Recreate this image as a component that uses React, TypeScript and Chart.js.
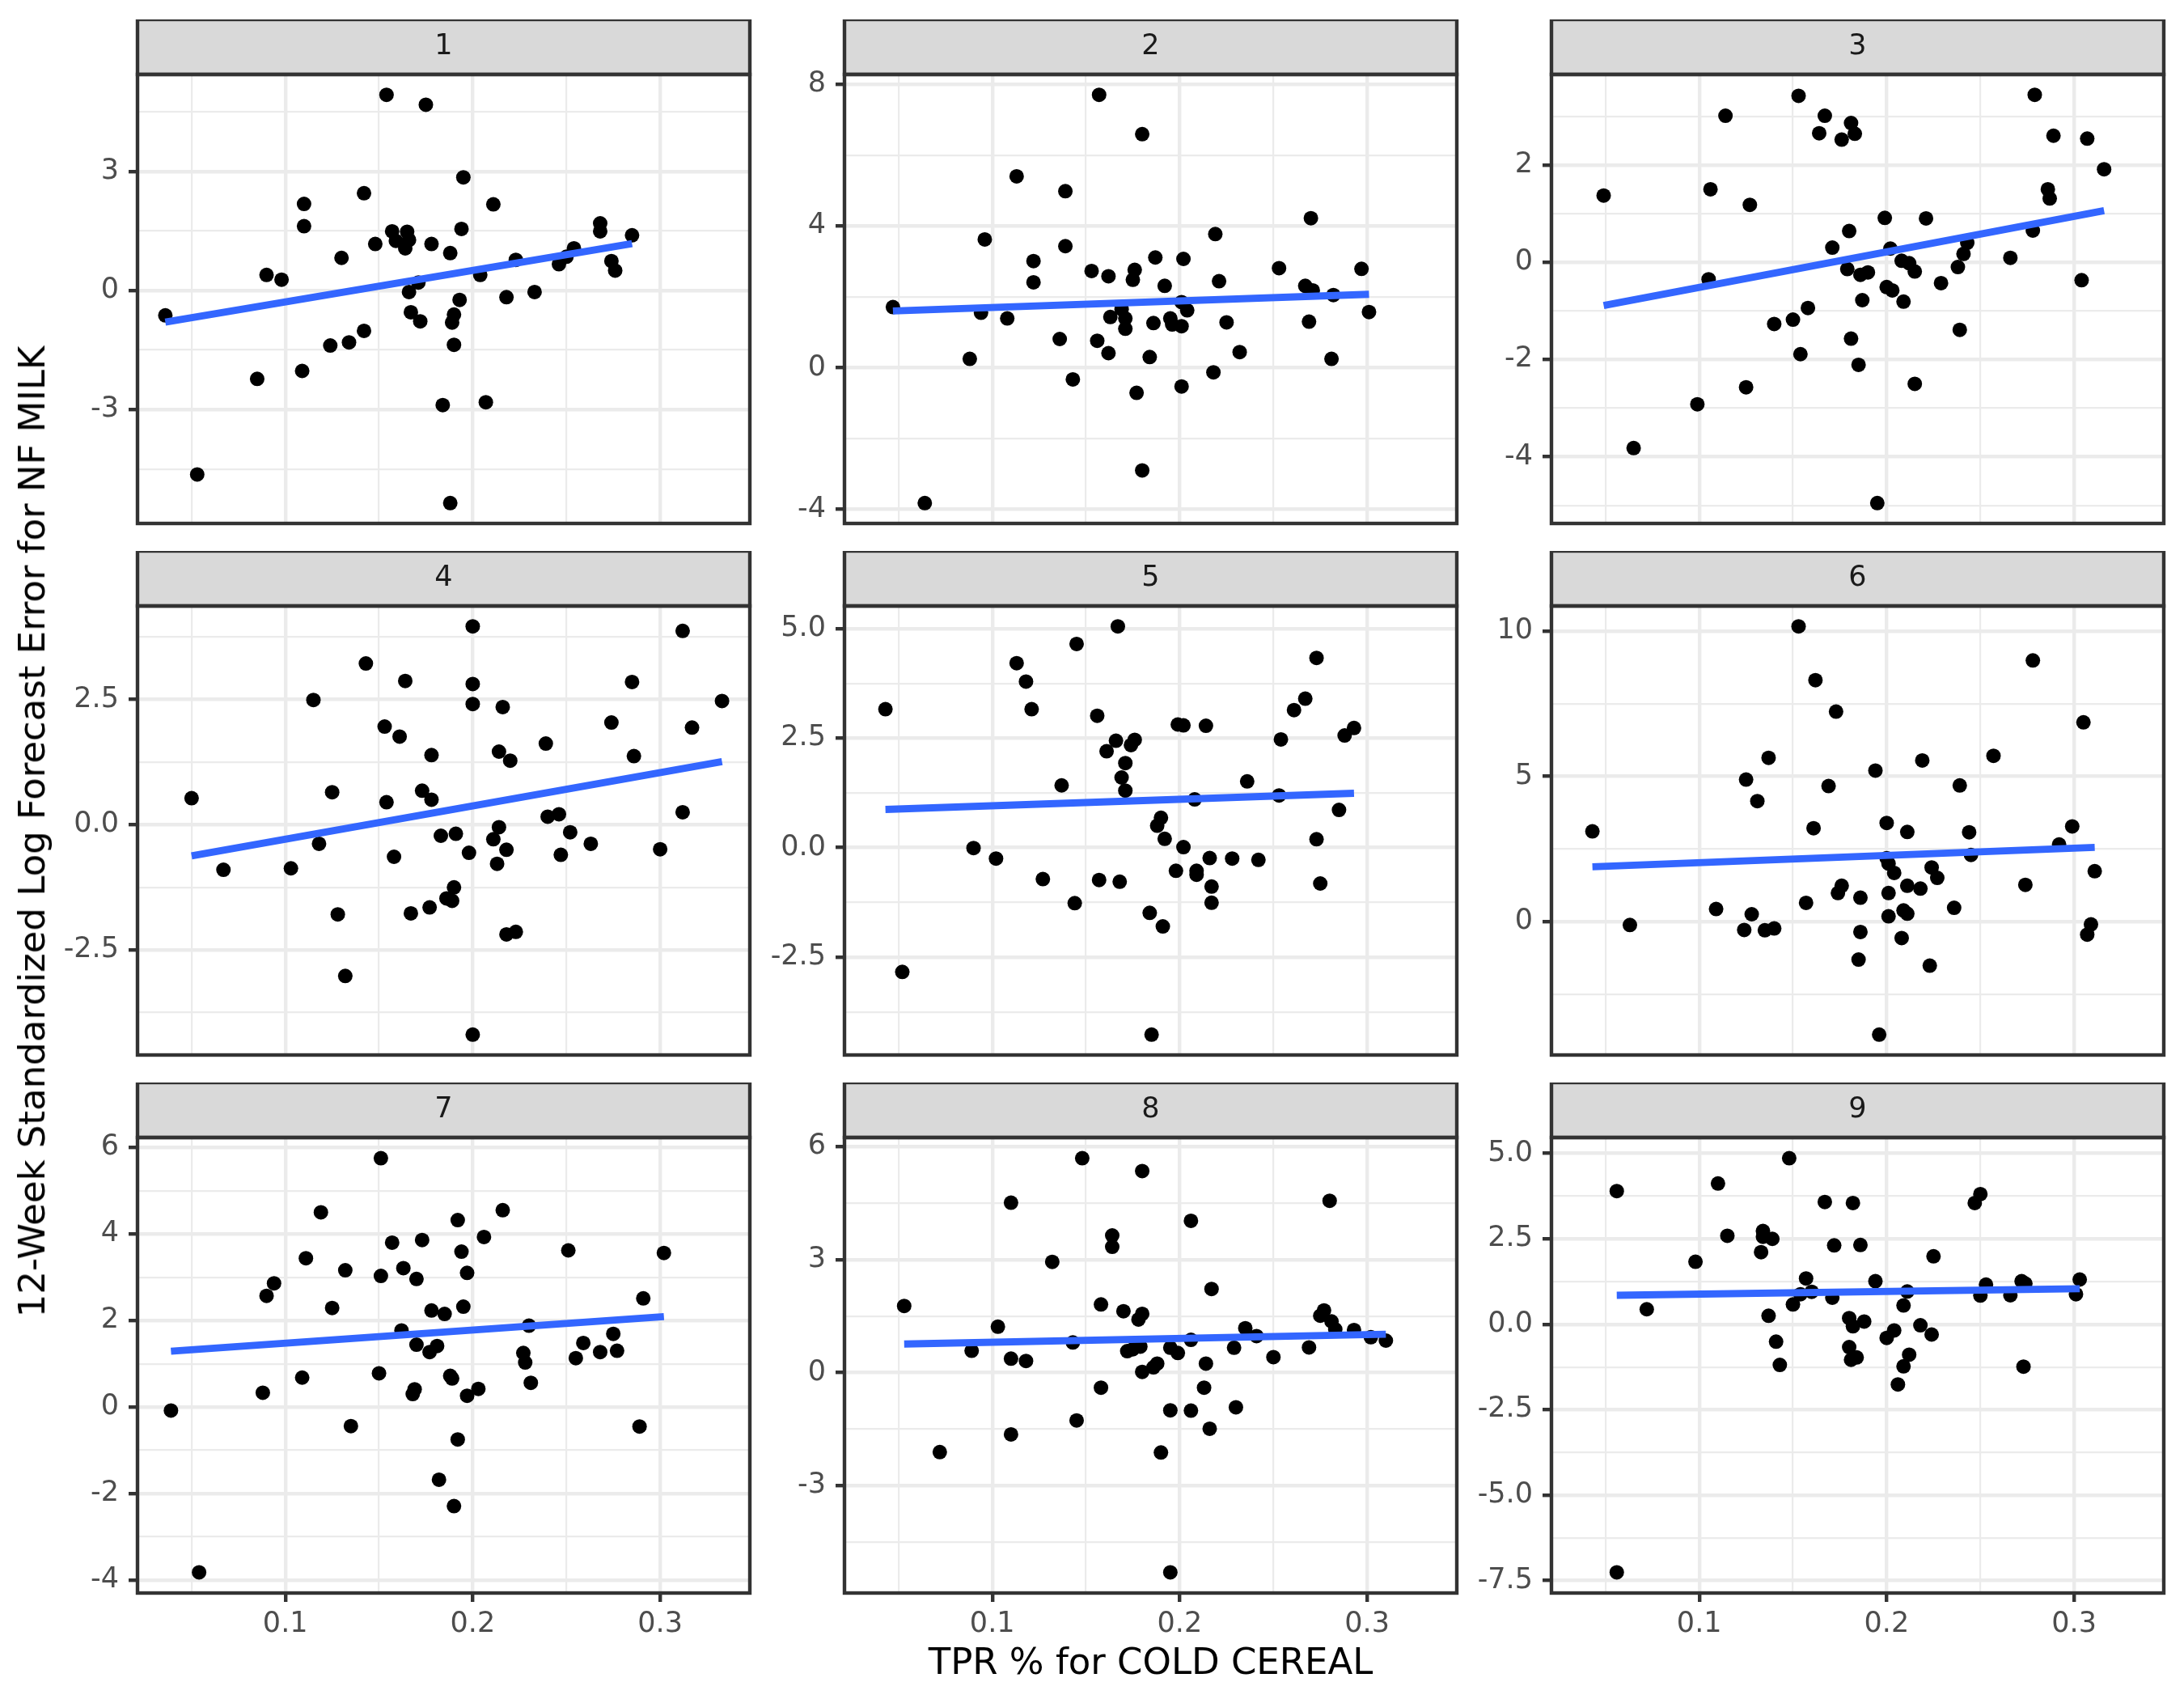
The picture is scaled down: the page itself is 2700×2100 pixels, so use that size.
import { useEffect, useRef } from "react"
import { Chart, registerables } from "chart.js"

Chart.register(...registerables)

// Panel 1
const P1_X = [0.036, 0.053, 0.085, 0.09, 0.098, 0.109, 0.11, 0.11, 0.124, 0.13, 0.134, 0.142, 0.142, 0.148, 0.154, 0.157, 0.159, 0.164, 0.165, 0.166, 0.166, 0.167, 0.171, 0.172, 0.175, 0.178, 0.184, 0.188, 0.188, 0.189, 0.19, 0.19, 0.193, 0.194, 0.195, 0.204, 0.207, 0.211, 0.218, 0.223, 0.233, 0.246, 0.25, 0.254, 0.268, 0.268, 0.274, 0.276, 0.285]
const P1_Y = [-0.63, -4.64, -2.23, 0.39, 0.27, -2.03, 2.18, 1.62, -1.39, 0.82, -1.31, -1.02, 2.45, 1.17, 4.93, 1.49, 1.25, 1.06, 1.48, 1.27, -0.04, -0.55, 0.2, -0.78, 4.68, 1.17, -2.89, 0.94, -5.36, -0.81, -0.61, -1.37, -0.24, 1.55, 2.85, 0.39, -2.82, 2.17, -0.17, 0.77, -0.04, 0.66, 0.85, 1.06, 1.69, 1.49, 0.74, 0.5, 1.39]

// Panel 2
const P2_X = [0.047, 0.064, 0.088, 0.094, 0.096, 0.108, 0.113, 0.122, 0.122, 0.136, 0.139, 0.139, 0.143, 0.153, 0.156, 0.157, 0.162, 0.162, 0.163, 0.169, 0.171, 0.171, 0.175, 0.176, 0.177, 0.18, 0.18, 0.184, 0.186, 0.187, 0.192, 0.195, 0.196, 0.201, 0.201, 0.201, 0.202, 0.204, 0.218, 0.219, 0.221, 0.225, 0.232, 0.253, 0.267, 0.269, 0.27, 0.271, 0.281, 0.282, 0.297, 0.301]
const P2_Y = [1.71, -3.82, 0.25, 1.55, 3.62, 1.39, 5.4, 3.01, 2.41, 0.81, 4.98, 3.43, -0.33, 2.73, 0.76, 7.7, 2.58, 0.41, 1.43, 1.65, 1.39, 1.1, 2.48, 2.76, -0.71, 6.59, -2.9, 0.3, 1.26, 3.11, 2.31, 1.39, 1.22, 1.85, 1.17, -0.53, 3.07, 1.62, -0.13, 3.77, 2.44, 1.28, 0.44, 2.81, 2.31, 1.3, 4.22, 2.18, 0.25, 2.05, 2.79, 1.57]

// Panel 3
const P3_X = [0.049, 0.065, 0.099, 0.105, 0.106, 0.114, 0.125, 0.127, 0.14, 0.15, 0.153, 0.154, 0.158, 0.164, 0.167, 0.171, 0.176, 0.18, 0.179, 0.181, 0.181, 0.183, 0.185, 0.187, 0.186, 0.19, 0.195, 0.199, 0.2, 0.202, 0.203, 0.208, 0.209, 0.212, 0.215, 0.215, 0.221, 0.229, 0.238, 0.239, 0.241, 0.243, 0.266, 0.278, 0.279, 0.286, 0.287, 0.289, 0.304, 0.307, 0.316]
const P3_Y = [1.37, -3.82, -2.92, -0.35, 1.5, 3.01, -2.57, 1.18, -1.27, -1.18, 3.42, -1.89, -0.94, 2.65, 3.01, 0.3, 2.52, 0.64, -0.14, -1.57, 2.86, 2.64, -2.11, -0.78, -0.26, -0.21, -4.95, 0.91, -0.51, 0.28, -0.58, 0.03, -0.81, -0.02, -0.19, -2.5, 0.9, -0.43, -0.1, -1.39, 0.17, 0.4, 0.09, 0.65, 3.44, 1.5, 1.31, 2.6, -0.37, 2.54, 1.91]

// Panel 4
const P4_X = [0.05, 0.067, 0.103, 0.115, 0.118, 0.125, 0.128, 0.132, 0.143, 0.153, 0.154, 0.158, 0.161, 0.164, 0.167, 0.173, 0.177, 0.178, 0.178, 0.183, 0.186, 0.189, 0.19, 0.191, 0.198, 0.2, 0.2, 0.2, 0.2, 0.211, 0.213, 0.214, 0.214, 0.216, 0.218, 0.218, 0.22, 0.223, 0.239, 0.24, 0.246, 0.247, 0.252, 0.263, 0.274, 0.285, 0.286, 0.3, 0.312, 0.312, 0.317, 0.333]
const P4_Y = [0.53, -0.9, -0.87, 2.49, -0.38, 0.65, -1.79, -3.02, 3.22, 1.96, 0.45, -0.64, 1.76, 2.87, -1.77, 0.68, -1.65, 1.39, 0.5, -0.22, -1.47, -1.52, -1.25, -0.18, -0.56, 2.41, 2.81, 3.96, -4.19, -0.29, -0.78, 1.46, -0.05, 2.35, -2.19, -0.5, 1.28, -2.14, 1.62, 0.16, 0.21, -0.6, -0.15, -0.38, 2.04, 2.85, 1.37, -0.49, 3.87, 0.25, 1.94, 2.47]

// Panel 5
const P5_X = [0.043, 0.052, 0.09, 0.102, 0.113, 0.118, 0.121, 0.127, 0.137, 0.144, 0.145, 0.156, 0.157, 0.161, 0.166, 0.167, 0.168, 0.169, 0.171, 0.171, 0.174, 0.176, 0.184, 0.185, 0.188, 0.19, 0.191, 0.192, 0.198, 0.199, 0.202, 0.202, 0.208, 0.209, 0.209, 0.214, 0.216, 0.217, 0.217, 0.228, 0.236, 0.242, 0.253, 0.254, 0.261, 0.267, 0.273, 0.273, 0.275, 0.285, 0.288, 0.293]
const P5_Y = [3.16, -2.84, -0.01, -0.25, 4.21, 3.79, 3.16, -0.72, 1.42, -1.27, 4.65, 3.01, -0.74, 2.2, 2.44, 5.05, -0.78, 1.6, 1.93, 1.3, 2.34, 2.46, -1.49, -4.27, 0.5, 0.68, -1.8, 0.2, -0.53, 2.81, 2.79, 0.01, 1.1, -0.53, -0.62, 2.78, -0.24, -0.89, -1.26, -0.25, 1.51, -0.28, 1.19, 2.47, 3.14, 3.4, 0.19, 4.33, -0.82, 0.86, 2.56, 2.73]

// Panel 6
const P6_X = [0.043, 0.063, 0.109, 0.124, 0.125, 0.128, 0.131, 0.135, 0.137, 0.14, 0.153, 0.157, 0.161, 0.162, 0.169, 0.173, 0.174, 0.176, 0.185, 0.186, 0.186, 0.194, 0.196, 0.2, 0.2, 0.201, 0.201, 0.201, 0.204, 0.208, 0.209, 0.211, 0.211, 0.211, 0.218, 0.219, 0.223, 0.224, 0.227, 0.236, 0.239, 0.244, 0.245, 0.257, 0.274, 0.278, 0.292, 0.299, 0.305, 0.307, 0.309, 0.311]
const P6_Y = [3.11, -0.11, 0.44, -0.28, 4.89, 0.26, 4.15, -0.29, 5.64, -0.23, 10.16, 0.65, 3.22, 8.31, 4.67, 7.23, 0.99, 1.24, -1.3, 0.83, -0.35, 5.2, -3.88, 3.4, 2.19, 0.19, 0.99, 2.0, 1.68, -0.56, 0.39, 0.28, 1.24, 3.09, 1.14, 5.55, -1.51, 1.87, 1.51, 0.48, 4.69, 3.08, 2.3, 5.71, 1.27, 8.99, 2.66, 3.28, 6.86, -0.44, -0.09, 1.74]

// Panel 7
const P7_X = [0.039, 0.054, 0.088, 0.09, 0.094, 0.109, 0.111, 0.119, 0.125, 0.132, 0.135, 0.15, 0.151, 0.151, 0.157, 0.162, 0.163, 0.168, 0.169, 0.17, 0.17, 0.173, 0.177, 0.178, 0.181, 0.182, 0.185, 0.188, 0.189, 0.19, 0.192, 0.192, 0.194, 0.195, 0.197, 0.197, 0.203, 0.206, 0.216, 0.227, 0.228, 0.23, 0.231, 0.251, 0.255, 0.259, 0.268, 0.275, 0.277, 0.289, 0.291, 0.302]
const P7_Y = [-0.08, -3.82, 0.33, 2.57, 2.86, 0.68, 3.44, 4.5, 2.29, 3.16, -0.44, 0.78, 3.03, 5.75, 3.8, 1.77, 3.21, 0.3, 0.41, 2.96, 1.44, 3.86, 1.27, 2.23, 1.41, -1.68, 2.15, 0.72, 0.66, -2.29, 4.32, -0.75, 3.59, 2.32, 3.1, 0.26, 0.42, 3.93, 4.55, 1.25, 1.03, 1.88, 0.56, 3.62, 1.13, 1.48, 1.27, 1.69, 1.3, -0.45, 2.51, 3.56]

// Panel 8
const P8_X = [0.053, 0.072, 0.089, 0.103, 0.11, 0.11, 0.11, 0.118, 0.132, 0.143, 0.145, 0.148, 0.158, 0.158, 0.164, 0.164, 0.17, 0.172, 0.175, 0.178, 0.179, 0.18, 0.18, 0.18, 0.186, 0.188, 0.19, 0.195, 0.195, 0.195, 0.199, 0.206, 0.206, 0.206, 0.213, 0.214, 0.216, 0.217, 0.229, 0.23, 0.235, 0.241, 0.25, 0.269, 0.275, 0.277, 0.28, 0.281, 0.283, 0.293, 0.302, 0.31]
const P8_Y = [1.77, -2.11, 0.58, 1.22, 0.37, 4.51, -1.64, 0.31, 2.94, 0.8, -1.27, 5.69, 1.81, -0.4, 3.34, 3.64, 1.63, 0.57, 0.62, 1.41, 0.69, 5.35, 1.56, 0.02, 0.14, 0.24, -2.12, -5.3, -1.0, 0.66, 0.52, 4.03, 0.87, -1.01, -0.4, 0.24, -1.49, 2.22, 0.66, -0.92, 1.18, 0.97, 0.41, 0.67, 1.51, 1.65, 4.56, 1.36, 1.15, 1.13, 0.94, 0.85]

// Panel 9
const P9_X = [0.056, 0.056, 0.072, 0.098, 0.11, 0.115, 0.133, 0.134, 0.134, 0.137, 0.139, 0.141, 0.143, 0.148, 0.15, 0.154, 0.157, 0.16, 0.167, 0.171, 0.172, 0.18, 0.18, 0.181, 0.182, 0.182, 0.184, 0.186, 0.188, 0.194, 0.2, 0.204, 0.206, 0.209, 0.209, 0.211, 0.212, 0.218, 0.224, 0.225, 0.247, 0.25, 0.25, 0.253, 0.266, 0.272, 0.273, 0.274, 0.301, 0.303]
const P9_Y = [3.9, -7.26, 0.44, 1.83, 4.12, 2.59, 2.11, 2.73, 2.56, 0.25, 2.5, -0.51, -1.19, 4.86, 0.58, 0.88, 1.34, 0.95, 3.58, 0.78, 2.31, 0.18, -0.67, -1.04, 3.55, -0.06, -0.97, 2.32, 0.08, 1.26, -0.4, -0.18, -1.76, 0.55, -1.23, 0.96, -0.89, -0.03, -0.3, 1.99, 3.55, 0.84, 3.81, 1.16, 0.85, 1.26, -1.24, 1.19, 0.88, 1.31]

// fitted lm line: value at the panel's smallest and largest x
const FIT_START = [-0.8, 1.6, -0.89, -0.62, 0.87, 1.89, 1.29, 0.76, 0.85]
const FIT_END = [1.18, 2.07, 1.06, 1.26, 1.24, 2.56, 2.09, 1.02, 1.04]

// axis ticks
const X_TICKS = [0.1, 0.2, 0.3]
const X_TICK_LABELS = ["0.1", "0.2", "0.3"]

const P1_TICKS = [-3, 0, 3]
const P1_LABELS = ["-3", "0", "3"]
const P2_TICKS = [-4, 0, 4, 8]
const P2_LABELS = ["-4", "0", "4", "8"]
const P3_TICKS = [-4, -2, 0, 2]
const P3_LABELS = ["-4", "-2", "0", "2"]
const P4_TICKS = [-2.5, 0, 2.5]
const P4_LABELS = ["-2.5", "0.0", "2.5"]
const P5_TICKS = [-2.5, 0, 2.5, 5]
const P5_LABELS = ["-2.5", "0.0", "2.5", "5.0"]
const P6_TICKS = [0, 5, 10]
const P6_LABELS = ["0", "5", "10"]
const P7_TICKS = [-4, -2, 0, 2, 4, 6]
const P7_LABELS = ["-4", "-2", "0", "2", "4", "6"]
const P8_TICKS = [-3, 0, 3, 6]
const P8_LABELS = ["-3", "0", "3", "6"]
const P9_TICKS = [-7.5, -5, -2.5, 0, 2.5, 5]
const P9_LABELS = ["-7.5", "-5.0", "-2.5", "0.0", "2.5", "5.0"]

const PANEL_NAMES = ["1", "2", "3", "4", "5", "6", "7", "8", "9"]
const PANEL_X = [P1_X, P2_X, P3_X, P4_X, P5_X, P6_X, P7_X, P8_X, P9_X]
const PANEL_Y = [P1_Y, P2_Y, P3_Y, P4_Y, P5_Y, P6_Y, P7_Y, P8_Y, P9_Y]
const PANEL_TICKS = [P1_TICKS, P2_TICKS, P3_TICKS, P4_TICKS, P5_TICKS, P6_TICKS, P7_TICKS, P8_TICKS, P9_TICKS]
const PANEL_LABELS = [P1_LABELS, P2_LABELS, P3_LABELS, P4_LABELS, P5_LABELS, P6_LABELS, P7_LABELS, P8_LABELS, P9_LABELS]

const X_TITLE = "TPR % for COLD CEREAL"
const Y_TITLE = "12-Week Standardized Log Forecast Error for NF MILK"

// layout (page pixels)
const COL_LEFT = [170, 1044, 1918]
const ROW_TOP = [24, 681, 1338]
const PANEL_W = 757
const STRIP_H = 68
const PANEL_H = 563
const PAGE_W = 2700
const PAGE_H = 2100

const FONT = "'DejaVu Sans', sans-serif"
const GRID = "#EBEBEB"
const DARK = "#333333"
const MAJOR_LW = 4.4
const MINOR_LW = 2.2

// ggplot style 5% expansion of the data range
function expand(values: number[]): [number, number] {
  const lo = Math.min(...values)
  const hi = Math.max(...values)
  const pad = (hi - lo) * 0.05
  return [lo - pad, hi + pad]
}

// major ticks plus the minor lines halfway between them
function gridValues(majors: number[], min: number, max: number) {
  const step = majors[1] - majors[0]
  const all = [majors[0] - step / 2, ...majors.flatMap((m) => [m, m + step / 2])]
  return all.filter((v) => v >= min && v <= max)
}

function findIndex(list: number[], v: number) {
  return list.findIndex((m) => Math.abs(m - v) < 1e-9)
}

const X_RANGE = expand(PANEL_X.flat())

// strip background + panel / strip borders
const facetFrame = {
  id: "facetFrame",
  beforeDraw(chart: Chart) {
    const { ctx, chartArea: a } = chart
    ctx.save()
    ctx.fillStyle = "#D9D9D9"
    ctx.fillRect(a.left, a.top - STRIP_H, a.right - a.left, STRIP_H)
    ctx.restore()
  },
  afterDraw(chart: Chart) {
    const { ctx, chartArea: a } = chart
    ctx.save()
    ctx.strokeStyle = DARK
    ctx.lineWidth = MAJOR_LW
    ctx.strokeRect(a.left, a.top - STRIP_H, a.right - a.left, STRIP_H)
    ctx.strokeRect(a.left, a.top, a.right - a.left, a.bottom - a.top)
    ctx.restore()
  },
}

function Panel({ index }: { index: number }) {
  const chartRef = useRef<HTMLCanvasElement>(null)
  const chartInstance = useRef<Chart | null>(null)

  const row = Math.floor(index / 3)
  const col = index % 3
  const bottomRow = row === 2
  const axisW = col === 0 ? 170 : 105
  const axisH = bottomRow ? PAGE_H - (ROW_TOP[2] + STRIP_H + PANEL_H) : 25
  const width = axisW + PANEL_W + 4
  const height = STRIP_H + PANEL_H + axisH
  const left = COL_LEFT[col] - axisW
  const top = ROW_TOP[row]

  useEffect(() => {
    if (!chartRef.current) return
    if (chartInstance.current) chartInstance.current.destroy()
    const ctx = chartRef.current.getContext("2d")
    if (!ctx) return

    const xs = PANEL_X[index]
    const ys = PANEL_Y[index]
    const yTicks = PANEL_TICKS[index]
    const yLabels = PANEL_LABELS[index]
    const yRange = expand(ys)
    const yGrid = gridValues(yTicks, yRange[0], yRange[1])
    const xGrid = gridValues(X_TICKS, X_RANGE[0], X_RANGE[1])
    const points = xs.map((x, i) => ({ x, y: ys[i] }))
    const fit = [
      { x: Math.min(...xs), y: FIT_START[index] },
      { x: Math.max(...xs), y: FIT_END[index] },
    ]

    chartInstance.current = new Chart(ctx, {
      type: "scatter",
      data: {
        datasets: [
          {
            data: fit,
            showLine: true,
            borderColor: "#3366FF",
            borderWidth: 8.9,
            pointRadius: 0,
            borderCapStyle: "butt",
          },
          {
            data: points,
            pointRadius: 9,
            pointBackgroundColor: "#000000",
            pointBorderWidth: 0,
          },
        ],
      },
      options: {
        animation: false,
        responsive: false,
        devicePixelRatio: 1,
        layout: { padding: { left: 0, right: 4, top: 0, bottom: 0 }, autoPadding: false },
        plugins: {
          legend: { display: false },
          tooltip: { enabled: false },
          title: {
            display: true,
            text: PANEL_NAMES[index],
            fullSize: false,
            color: "#1A1A1A",
            font: { family: FONT, size: 35, weight: "normal", lineHeight: 1.2 },
            padding: { top: 13, bottom: 13 },
          },
        },
        scales: {
          x: {
            type: "linear",
            min: X_RANGE[0],
            max: X_RANGE[1],
            afterBuildTicks: (s) => {
              s.ticks = xGrid.map((v) => ({ value: v }))
            },
            afterFit: (s) => {
              s.height = axisH
            },
            border: { display: false },
            grid: {
              color: GRID,
              lineWidth: (c) => (findIndex(X_TICKS, c.tick?.value ?? NaN) >= 0 ? MAJOR_LW : MINOR_LW),
              drawTicks: bottomRow,
              tickLength: 11,
              tickWidth: MAJOR_LW,
              tickColor: (c) => (findIndex(X_TICKS, c.tick?.value ?? NaN) >= 0 ? DARK : "rgba(0,0,0,0)"),
            },
            ticks: {
              display: bottomRow,
              autoSkip: false,
              maxRotation: 0,
              padding: 7,
              color: "#4D4D4D",
              font: { family: FONT, size: 35 },
              callback: (v) => {
                const i = findIndex(X_TICKS, Number(v))
                return i >= 0 ? X_TICK_LABELS[i] : ""
              },
            },
            title: {
              display: index === 7,
              text: X_TITLE,
              color: "#000000",
              font: { family: FONT, size: 45 },
              padding: { top: 0, bottom: 16 },
            },
          },
          y: {
            type: "linear",
            min: yRange[0],
            max: yRange[1],
            afterBuildTicks: (s) => {
              s.ticks = yGrid.map((v) => ({ value: v }))
            },
            afterFit: (s) => {
              s.width = axisW
            },
            border: { display: false },
            grid: {
              color: GRID,
              lineWidth: (c) => (findIndex(yTicks, c.tick?.value ?? NaN) >= 0 ? MAJOR_LW : MINOR_LW),
              drawTicks: true,
              tickLength: 11,
              tickWidth: MAJOR_LW,
              tickColor: (c) => (findIndex(yTicks, c.tick?.value ?? NaN) >= 0 ? DARK : "rgba(0,0,0,0)"),
            },
            ticks: {
              autoSkip: false,
              padding: 12,
              color: "#4D4D4D",
              font: { family: FONT, size: 35 },
              callback: (v) => {
                const i = findIndex(yTicks, Number(v))
                return i >= 0 ? yLabels[i] : ""
              },
            },
          },
        },
      },
      plugins: [facetFrame],
    })

    return () => {
      if (chartInstance.current) {
        chartInstance.current.destroy()
        chartInstance.current = null
      }
    }
  }, [index, axisH])

  return (
    <canvas
      ref={chartRef}
      width={width}
      height={height}
      style={{ position: "absolute", left, top, width, height }}
    />
  )
}

export default function App() {
  return (
    <div
      style={{
        position: "absolute",
        left: 0,
        top: 0,
        width: PAGE_W,
        height: PAGE_H,
        background: "#FFFFFF",
        overflow: "hidden",
      }}
    >
      {PANEL_NAMES.map((_, i) => (
        <Panel key={i} index={i} />
      ))}
      {/* shared y title, centred on the panel column */}
      <div
        style={{
          position: "absolute",
          left: 40,
          top: 1028,
          transform: "translate(-50%, -50%) rotate(-90deg)",
          fontFamily: FONT,
          fontSize: 45,
          lineHeight: 1.2,
          whiteSpace: "nowrap",
          color: "#000000",
        }}
      >
        {Y_TITLE}
      </div>
    </div>
  )
}
